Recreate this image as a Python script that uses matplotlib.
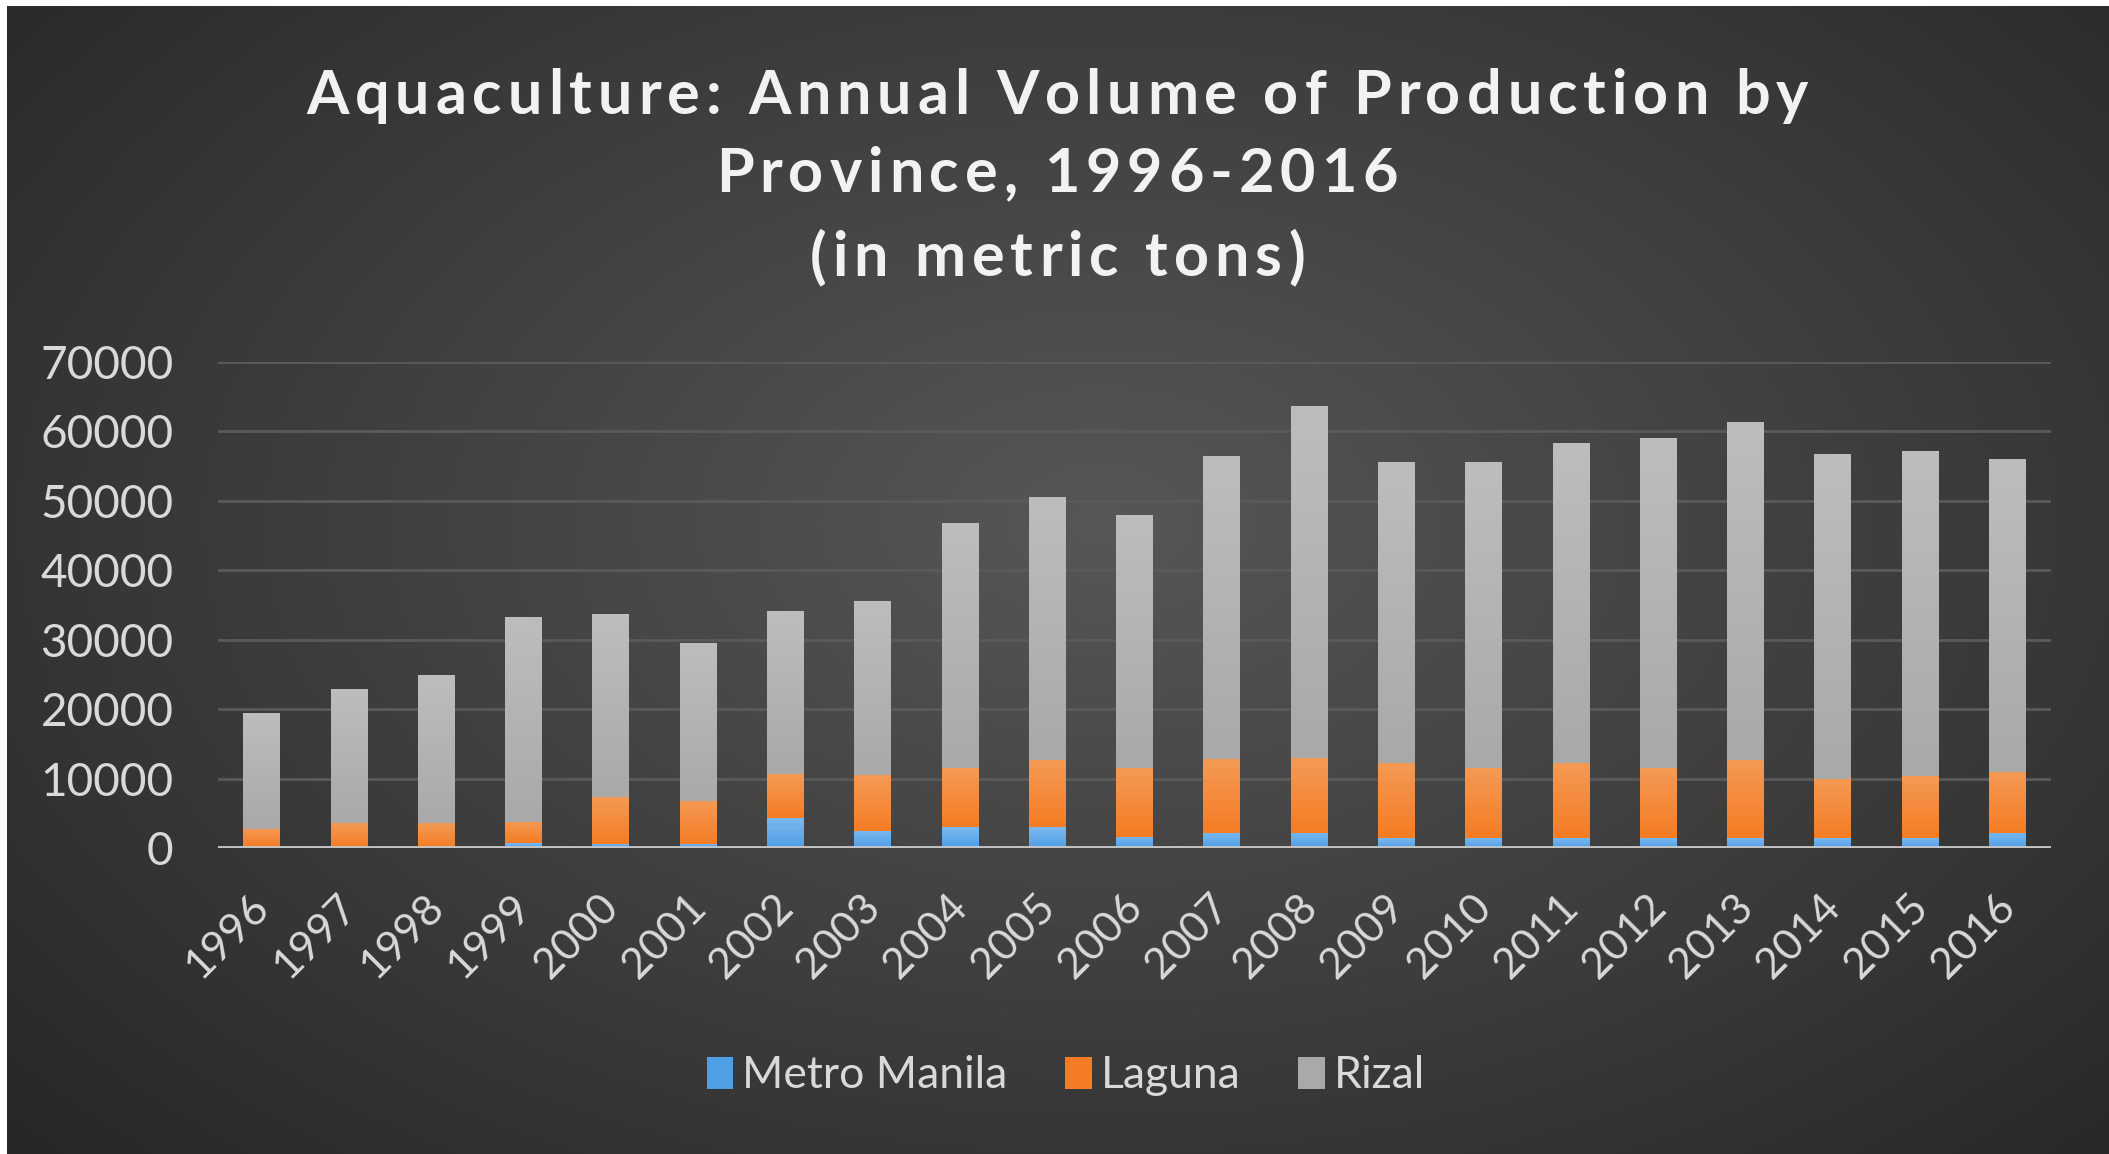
import numpy as np
import matplotlib.pyplot as plt
from matplotlib.colors import LinearSegmentedColormap, to_rgb
from matplotlib.patches import Patch
from matplotlib.transforms import ScaledTranslation

# Values (metric tons)
years = [str(y) for y in range(1996, 2017)]
metro_manila = [0, 0, 0, 650, 600, 600, 4250, 2500, 3000, 3000, 1650,
                2200, 2200, 1400, 1400, 1400, 1400, 1400, 1400, 1400, 2200]
laguna = [2800, 3550, 3550, 3150, 6800, 6100, 6450, 7950, 8500, 9650, 9920,
          10600, 10800, 10900, 10170, 10800, 10170, 11300, 8500, 9020, 8700]
rizal = [16700, 19350, 21300, 29500, 26300, 22800, 23450, 25150, 35300, 37950, 36330,
         43600, 50700, 43250, 43980, 46100, 47430, 48700, 46850, 46780, 45150]

series_names = ['Metro Manila', 'Laguna', 'Rizal']
colors = ['#4e9fe6', '#f47c24', '#a9a9a9']
tops = ['#7cb8ee', '#f59a55', '#bdbdbd']

title_lines = ['Aquaculture: Annual Volume of Production by',
               'Province, 1996-2016',
               '(in metric tons)']

W, H = 2109, 1154
fig = plt.figure(figsize=(W / 100, H / 100), dpi=100, facecolor='white')
plt.rcParams['font.family'] = ['Lato', 'DejaVu Sans']

# dark radial background, small white margin top/left like the screenshot
bg = fig.add_axes([7 / W, 0, 1 - 7 / W, 1 - 6 / H], zorder=-5)
gx, gy = np.meshgrid(np.linspace(0, 1, 400), np.linspace(0, 1, 220))
r = np.sqrt(((gx - 0.52) / 0.75) ** 2 + ((gy - 0.45) / 0.85) ** 2)
r = np.clip(r, 0, 1)
c0 = np.array(to_rgb('#575757'))
c1 = np.array(to_rgb('#242424'))
img = c0[None, None, :] * (1 - r[..., None]) + c1[None, None, :] * r[..., None]
bg.imshow(img, aspect='auto', extent=(0, 1, 0, 1), interpolation='bilinear')
bg.axis('off')

ax = fig.add_axes([218 / W, 1 - 848 / H, (2051 - 218) / W, (848 - 362) / H])
ax.set_facecolor('none')

x = np.arange(len(years))
bw = 0.42
bottom = np.zeros(len(years))
for name, vals, col, top in zip(series_names, [metro_manila, laguna, rizal], colors, tops):
    bars = ax.bar(x, vals, bw, bottom=bottom, color=col, zorder=3)
    cmap = LinearSegmentedColormap.from_list(name, [col, top])
    grad = np.linspace(0, 1, 128).reshape(-1, 1)
    for b in bars:
        h = b.get_height()
        if h <= 0:
            continue
        x0, y0, w = b.get_x(), b.get_y(), b.get_width()
        im = ax.imshow(grad, cmap=cmap, origin='lower', aspect='auto',
                       extent=(x0, x0 + w, y0, y0 + h), zorder=3.1)
        im.set_clip_path(b)
    bottom += np.array(vals)

ax.set_xlim(-0.5, len(years) - 0.5)
ax.set_ylim(0, 70000)
ax.set_yticks(np.arange(0, 70001, 10000))
ax.yaxis.grid(True, color='#5a5a5a', linewidth=2, zorder=0)
ax.axhline(0, color='#c4c4c4', linewidth=3.5, zorder=4)
for s in ax.spines.values():
    s.set_visible(False)
ax.tick_params(length=0, colors='#d9d9d9', labelsize=31)
ax.tick_params(axis='y', pad=32, labelsize=33)
ax.set_xticks(x)
ax.set_xticklabels(years, rotation=45, ha='right', va='top', rotation_mode='anchor')
ax.tick_params(axis='x', pad=14)
shift = ScaledTranslation(-12 / 100, -20 / 100, fig.dpi_scale_trans)
for lab in ax.get_xticklabels():
    lab.set_transform(lab.get_transform() + shift)

# title with letter spacing (matplotlib has no tracking option)
fig.canvas.draw()
rend = fig.canvas.get_renderer()
tkw = dict(fontsize=44, fontweight='bold', color='#f2f2f2', va='baseline')


def text_w(s):
    t = fig.text(0, 0, s, **tkw)
    w = t.get_window_extent(rend).width
    t.remove()
    return w


hh = text_w('HH')
baselines = [114, 192, 276]
track = None
for line, yb in zip(title_lines, baselines):
    adv = [text_w('H' + ch + 'H') - hh for ch in line]
    if track is None:
        track = (1502 - sum(adv)) / (len(line) - 1)
    total = sum(adv) + track * (len(line) - 1)
    xpos = 1057 - total / 2
    for ch, a in zip(line, adv):
        if ch != ' ':
            fig.text(xpos / W, 1 - yb / H, ch, ha='left', **tkw)
        xpos += a + track

handles = [Patch(facecolor=c, edgecolor='none') for c in colors]
fig.legend(handles, series_names, loc='center', bbox_to_anchor=(1066 / W, 1 - 1076 / H),
           ncol=3, frameon=False, fontsize=32, labelcolor='#d9d9d9',
           handlelength=0.6, handleheight=0.75, handletextpad=0.2, columnspacing=1.3)

fig.savefig('out.png', dpi=100, facecolor=fig.get_facecolor())
